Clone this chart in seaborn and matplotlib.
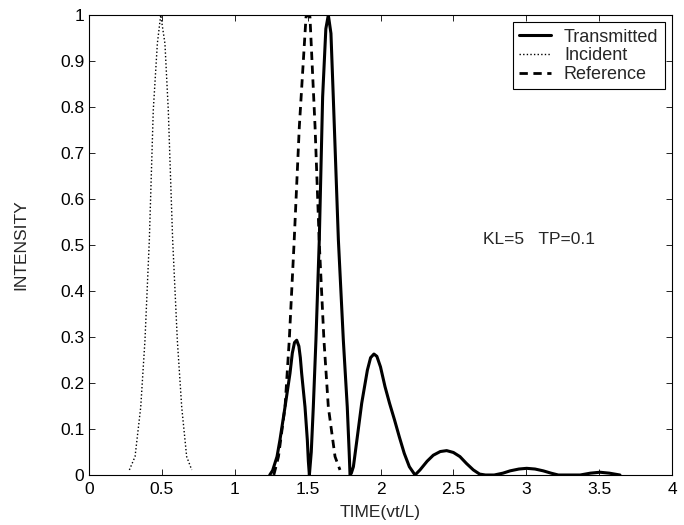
import matplotlib
matplotlib.use("Agg")
import matplotlib.pyplot as plt
import seaborn as sns
import pandas as pd

# ---- data ----
trans_x = [1.24, 1.26, 1.29, 1.31, 1.345, 1.379, 1.395, 1.41, 1.425, 1.44, 1.45, 1.459, 1.482, 1.498, 1.505, 1.512,
           1.525, 1.539, 1.557, 1.580, 1.603, 1.625, 1.642, 1.66, 1.676, 1.711, 1.745, 1.772, 1.785, 1.791,
           1.80, 1.814, 1.841, 1.871, 1.910, 1.932, 1.955, 1.975, 2.0, 2.031, 2.062, 2.096, 2.129, 2.163, 2.198, 2.237,
           2.271, 2.32, 2.362, 2.41, 2.454, 2.50, 2.545, 2.59, 2.637, 2.68, 2.72, 2.78,
           2.84, 2.889, 2.95, 3.003, 3.06, 3.117, 3.17, 3.22, 3.37, 3.44, 3.506, 3.57, 3.643]
trans_y = [0.0, 0.01, 0.04, 0.076, 0.148, 0.221, 0.265, 0.288, 0.293, 0.28, 0.255, 0.221, 0.148, 0.076, 0.03, 0.0,
           0.05, 0.148, 0.293, 0.511, 0.822, 0.97, 1.0, 0.96, 0.822, 0.511, 0.293, 0.148, 0.05, 0.0,
           0.004, 0.018, 0.083, 0.156, 0.228, 0.255, 0.263, 0.258, 0.235, 0.192, 0.156, 0.120, 0.083, 0.047, 0.018, 0.0,
           0.011, 0.03, 0.043, 0.051, 0.053, 0.049, 0.040, 0.025, 0.011, 0.002, 0.0, 0.0,
           0.004, 0.009, 0.013, 0.0145, 0.013, 0.009, 0.004, 0.0, 0.0, 0.004, 0.006, 0.004, 0.0]

inc_x = [0.277, 0.316, 0.355, 0.384, 0.414, 0.441, 0.469, 0.492, 0.521, 0.544, 0.567, 0.574,
         0.606, 0.636, 0.670, 0.705]
inc_y = [0.011, 0.040, 0.148, 0.293, 0.511, 0.793, 0.938, 1.0, 0.938, 0.793, 0.576, 0.511,
         0.293, 0.148, 0.040, 0.011]

ref_x = [1.268, 1.30, 1.345, 1.374, 1.407, 1.443, 1.489, 1.50, 1.516, 1.551, 1.580, 1.612,
         1.642, 1.688, 1.722]
ref_y = [0.0, 0.040, 0.148, 0.293, 0.504, 0.757, 0.996, 1.0, 0.996, 0.757, 0.504, 0.293,
         0.148, 0.040, 0.011]

x_ticks = [0, 0.5, 1, 1.5, 2, 2.5, 3, 3.5, 4]
x_tick_labels = ["0", "0.5", "1", "1.5", "2", "2.5", "3", "3.5", "4"]
y_ticks = [0, 0.1, 0.2, 0.3, 0.4, 0.5, 0.6, 0.7, 0.8, 0.9, 1]
y_tick_labels = ["0", "0.1", "0.2", "0.3", "0.4", "0.5", "0.6", "0.7", "0.8", "0.9", "1"]

annotation = "KL=5   TP=0.1"

# ---- styling ----
sns.set_style("ticks")
plt.rcParams['font.family'] = ['Liberation Sans', 'DejaVu Sans']
plt.rcParams['xtick.direction'] = 'in'
plt.rcParams['ytick.direction'] = 'in'

fig = plt.figure(figsize=(6.84, 5.25), dpi=100)
ax = fig.add_axes([89 / 684, 50 / 525, 583 / 684, 460 / 525])

df_t = pd.DataFrame({"x": trans_x, "y": trans_y})
df_i = pd.DataFrame({"x": inc_x, "y": inc_y})
df_r = pd.DataFrame({"x": ref_x, "y": ref_y})

sns.lineplot(data=df_t, x="x", y="y", ax=ax, color="black", linewidth=2.2,
             label="Transmitted", sort=False, estimator=None)
sns.lineplot(data=df_i, x="x", y="y", ax=ax, color="black", linewidth=1.0,
             linestyle=(0, (1, 1.6)), label="Incident", sort=False, estimator=None)
sns.lineplot(data=df_r, x="x", y="y", ax=ax, color="black", linewidth=2.0,
             linestyle=(0, (3, 2)), label="Reference", sort=False, estimator=None)

ax.set_xlim(0, 4)
ax.set_ylim(0, 1)
ax.set_xticks(x_ticks)
ax.set_xticklabels(x_tick_labels)
ax.set_yticks(y_ticks)
ax.set_yticklabels(y_tick_labels)
ax.tick_params(axis="both", which="both", direction="in", length=4, width=0.6,
               labelsize=12.5, top=True, right=True, color="black", labelcolor="black")
ax.tick_params(axis="x", pad=5)
for s in ax.spines.values():
    s.set_visible(True)
    s.set_linewidth(0.8)
    s.set_color("black")

ax.set_xlabel("TIME(vt/L)", fontsize=12.5, labelpad=5.5)
ax.set_ylabel("INTENSITY", fontsize=12.5, labelpad=23)

ax.text(2.70, 0.511, annotation, fontsize=12.5, ha="left", va="center")

leg = ax.legend(loc="upper right", fontsize=13, frameon=True, fancybox=False,
                edgecolor="black", framealpha=1, borderpad=0.35, labelspacing=0.1,
                handlelength=1.8, handletextpad=0.7, borderaxespad=0.4)
leg.get_frame().set_linewidth(0.8)

fig.savefig("out.png", dpi=100)
